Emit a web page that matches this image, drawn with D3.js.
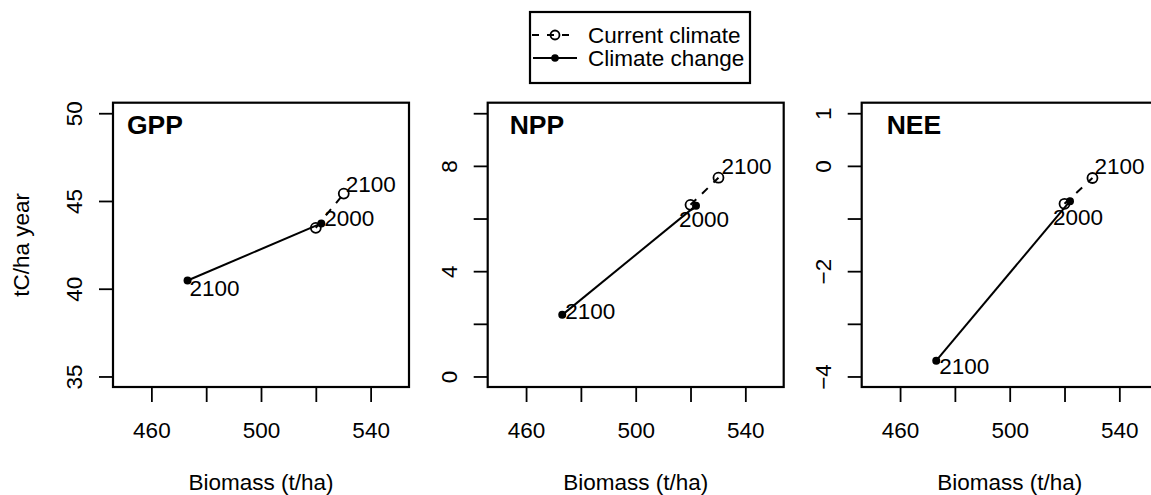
<!DOCTYPE html>
<html>
<head>
<meta charset="utf-8">
<script src="https://cdn.jsdelivr.net/npm/d3@7"></script>
<style>
  body { margin: 0; background: #fff; }
  svg text { font-family: "Liberation Sans", Arial, Helvetica, sans-serif; fill: #000; }
</style>
</head>
<body>
<svg id="chart" width="1151" height="495"></svg>
<script>
// data
const years = [2000, 2100];
const scenarios = ['Current climate', 'Climate change'];
const biomassCurrent = [520, 530.2];
const biomassChange = [522, 473.2];
const gppCurrent = [43.47, 45.42];
const gppChange = [43.72, 40.47];
const nppCurrent = [6.52, 7.55];
const nppChange = [6.49, 2.34];
const neeCurrent = [-0.72, -0.23];
const neeChange = [-0.67, -3.70];

const panelNames = ['GPP', 'NPP', 'NEE'];
const xLimits = [450, 550];
const xTicks = [460, 480, 500, 520, 540];
const xTickLabels = [460, 500, 540];
const yLimits = [[35, 50], [0, 10], [-4, 1]];
const yTicks = [[35, 40, 45, 50], [0, 2, 4, 6, 8, 10], [-4, -3, -2, -1, 0, 1]];
const yTickLabels = [[35, 40, 45, 50], [0, 4, 8], [-4, -2, 0, 1]];
const xTitle = 'Biomass (t/ha)';
const yTitle = 'tC/ha year';

// pixel nudges of the year labels (start anchor, baseline) relative to the point
// order: current 2100, change 2000, change 2100
const labelNudge = [
    [[2, -2], [3, 3], [2, 16]],
    [[3, -4], [-17, 21], [3, 4]],
    [[2, -4], [-17, 24], [3, 13]]
];

const svg = d3.select('#chart');
const panelLeft = [113, 487.7, 861.7];
const panelW = 296, plotTop = 102.7, plotBottom = 387;
const fs = 22.5;

const series = [
    { cur: gppCurrent, chg: gppChange },
    { cur: nppCurrent, chg: nppChange },
    { cur: neeCurrent, chg: neeChange }
];

function pad(lim) {
    const d = (lim[1] - lim[0]) * 0.04;
    return [lim[0] - d, lim[1] + d];
}

const fmt = v => String(v).replace('-', '\u2212');

series.forEach(function(s, i) {
    const g = svg.append('g').attr('transform', 'translate(' + panelLeft[i] + ',0)');
    const x = d3.scaleLinear().domain(pad(xLimits)).range([0, panelW]);
    const y = d3.scaleLinear().domain(pad(yLimits[i])).range([plotBottom, plotTop]);

    // x axis
    const xa = g.append('g').attr('transform', 'translate(0,' + plotBottom + ')')
        .call(d3.axisBottom(x).tickValues(xTicks).tickSize(15)
            .tickFormat(d => xTickLabels.includes(d) ? d : ''));
    xa.select('.domain').remove();
    xa.selectAll('line').attr('stroke', '#000').attr('stroke-width', 1.8);
    xa.selectAll('text').attr('y', 50.5).attr('dy', 0)
        .style('font-size', fs + 'px').attr('font-family', null);

    // y axis, labels turned like R does
    const ya = g.append('g')
        .call(d3.axisLeft(y).tickValues(yTicks[i]).tickSize(14)
            .tickFormat(d => yTickLabels[i].includes(d) ? fmt(d) : ''));
    ya.select('.domain').remove();
    ya.selectAll('line').attr('stroke', '#000').attr('stroke-width', 1.8);
    ya.selectAll('text')
        .attr('transform', 'rotate(-90)')
        .attr('x', 0).attr('y', -31).attr('dy', 0)
        .attr('text-anchor', 'middle')
        .style('font-size', fs + 'px').attr('font-family', null);

    // box
    g.append('rect').attr('x', 0).attr('y', plotTop)
        .attr('width', panelW).attr('height', plotBottom - plotTop)
        .attr('fill', 'none').attr('stroke', '#000').attr('stroke-width', 2.2);

    // panel name
    g.append('text').attr('x', [14, 22, 25][i]).attr('y', 134)
        .attr('font-weight', 'bold').style('font-size', '26.5px')
        .text(panelNames[i]);

    const cur = years.map((yr, k) => ({ x: biomassCurrent[k], y: s.cur[k] }));
    const chg = years.map((yr, k) => ({ x: biomassChange[k], y: s.chg[k] }));
    const line = d3.line().x(d => x(d.x)).y(d => y(d.y));

    g.append('path').attr('d', line(cur)).attr('fill', 'none')
        .attr('stroke', '#000').attr('stroke-width', 2).attr('stroke-dasharray', '8,8');
    g.append('path').attr('d', line(chg)).attr('fill', 'none')
        .attr('stroke', '#000').attr('stroke-width', 2);

    g.selectAll('.open').data(cur).enter().append('circle')
        .attr('cx', d => x(d.x)).attr('cy', d => y(d.y)).attr('r', 5)
        .attr('fill', 'none').attr('stroke', '#000').attr('stroke-width', 1.8);
    g.selectAll('.dot').data(chg).enter().append('circle')
        .attr('cx', d => x(d.x)).attr('cy', d => y(d.y)).attr('r', 4)
        .attr('fill', '#000');

    // year labels
    const labs = [
        { p: cur[1], t: years[1] },
        { p: chg[0], t: years[0] },
        { p: chg[1], t: years[1] }
    ];
    labs.forEach(function(l, k) {
        g.append('text')
            .attr('x', x(l.p.x) + labelNudge[i][k][0])
            .attr('y', y(l.p.y) + labelNudge[i][k][1])
            .style('font-size', fs + 'px')
            .text(l.t);
    });

    // x title
    g.append('text').attr('x', panelW / 2).attr('y', 490)
        .attr('text-anchor', 'middle').style('font-size', fs + 'px')
        .text(xTitle);
});

// y title, first panel only
svg.append('text')
    .attr('transform', 'translate(29,' + (plotTop + plotBottom) / 2 + ') rotate(-90)')
    .attr('text-anchor', 'middle').style('font-size', fs + 'px')
    .text(yTitle);

// legend
const lg = svg.append('g');
lg.append('rect').attr('x', 530).attr('y', 12).attr('width', 220).attr('height', 71)
    .attr('fill', '#fff').attr('stroke', '#000').attr('stroke-width', 2.2);
const rowY = [35, 58];
lg.append('line').attr('x1', 532).attr('x2', 571).attr('y1', rowY[0]).attr('y2', rowY[0])
    .attr('stroke', '#000').attr('stroke-width', 2).attr('stroke-dasharray', '7,8');
lg.append('circle').attr('cx', 555).attr('cy', rowY[0]).attr('r', 4.5)
    .attr('fill', 'none').attr('stroke', '#000').attr('stroke-width', 1.8);
lg.append('line').attr('x1', 533).attr('x2', 577).attr('y1', rowY[1]).attr('y2', rowY[1])
    .attr('stroke', '#000').attr('stroke-width', 2);
lg.append('circle').attr('cx', 555).attr('cy', rowY[1]).attr('r', 3.8).attr('fill', '#000');
scenarios.forEach(function(name, k) {
    lg.append('text').attr('x', 588).attr('y', rowY[k] + 8)
        .style('font-size', fs + 'px').text(name);
});
</script>
</body>
</html>
